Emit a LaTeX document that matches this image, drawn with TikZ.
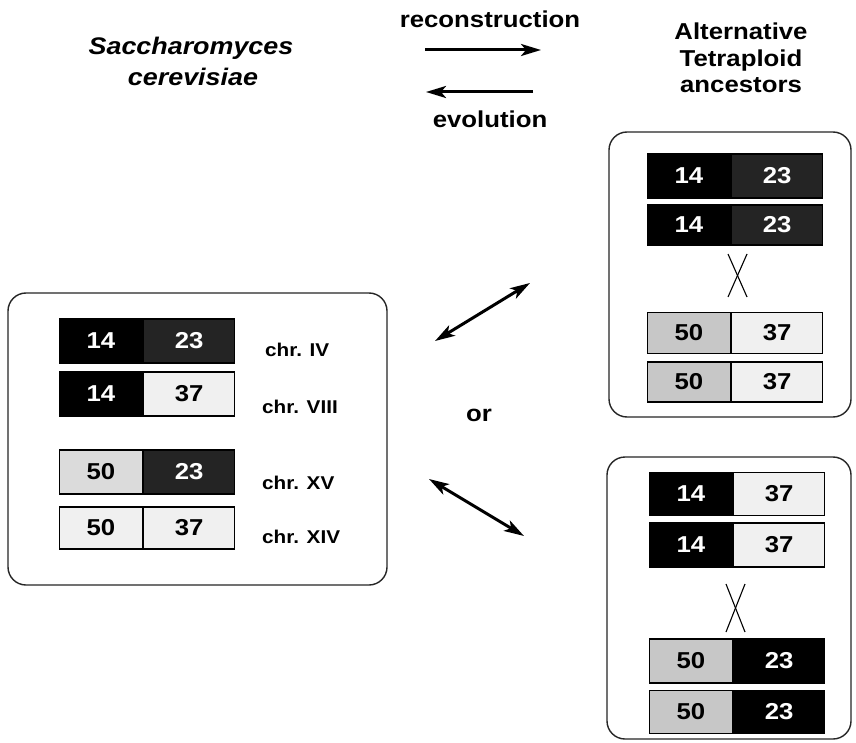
\documentclass[tikz,border=0pt]{standalone}
\usepackage{fontspec}
\setmainfont{Liberation Sans}[FakeStretch=1.12]
\usetikzlibrary{arrows.meta}
\definecolor{dk}{gray}{0.14}
\definecolor{lt}{gray}{0.94}
\definecolor{mdl}{gray}{0.86}
\definecolor{mdr}{gray}{0.78}
\tikzset{
  title/.style={font=\fontsize{23}{27}\selectfont\bfseries, anchor=base, inner sep=0},
  ititle/.style={font=\fontsize{24}{27}\selectfont\bfseries\itshape, anchor=base, inner sep=0},
  chrlab/.style={font=\fontsize{18.5}{22}\selectfont\bfseries, anchor=west, inner sep=0},
  seg/.style={draw=black, line width=1.2pt, rectangle, inner sep=0, font=\fontsize{23}{27}\selectfont\bfseries},
  blk/.style={fill=black, text=white},
  dkseg/.style={fill=dk, text=white},
  ltseg/.style={fill=lt, text=black},
  mdlseg/.style={fill=mdl, text=black},
  mdrseg/.style={fill=mdr, text=black},
  panel/.style={draw=black!85, line width=1.4pt, rounded corners=18pt},
  tip/.tip={Stealth[length=20pt, width=12pt, inset=5pt]},
  arr/.style={line width=3pt, -tip},
  darr/.style={line width=3pt, tip-tip},
  cross/.style={line width=1.1pt}
}
% id, left x, centre y, height, left style, left num, right style, right num
\newcommand\chro[8]{%
  \node[seg,#5,minimum width=83pt,minimum height=#4pt,anchor=east] (#1l) at ({#2+83},#3) {#6};
  \node[seg,#7,minimum width=91pt,minimum height=#4pt,anchor=west] (#1r) at (#1l.east) {#8};}
\begin{document}
\begin{tikzpicture}[x=1pt,y=-1pt]
\fill[white] (0,0) rectangle (856,743);
\useasboundingbox (0,0) rectangle (856,743);

% titles
\node[ititle] (sc1) at (191,55) {Saccharomyces};
\node[ititle] (sc2) at (193,86) {cerevisiae};
\node[title] (rec) at (490,28) {reconstruction};
\node[title] (evo) at (490,128) {evolution};
\node[title] (al1) at (741,40) {Alternative};
\node[title] (al2) at (741,67) {Tetraploid};
\node[title] (al3) at (741,93) {ancestors};

% top arrows
\coordinate (ra) at (425,50); \coordinate (rb) at (541,50);
\coordinate (ea) at (533,92); \coordinate (eb) at (426,92);
\draw[arr] (ra) -- (rb);
\draw[arr] (ea) -- (eb);

% left panel
\draw[panel] (8,293) rectangle (387,585);
\chro{a}{60}{341}{44}{blk}{14}{dkseg}{23}
\chro{b}{60}{394}{44}{blk}{14}{ltseg}{37}
\chro{c}{60}{472}{44}{mdlseg}{50}{dkseg}{23}
\chro{d}{60}{528}{42}{ltseg}{50}{ltseg}{37}
\node[chrlab] (la) at (265,350) {chr. IV};
\node[chrlab] (lb) at (262,407) {chr. VIII};
\node[chrlab] (lc) at (262,483) {chr. XV};
\node[chrlab] (ld) at (262,537) {chr. XIV};

% top right panel
\draw[panel] (609,132) rectangle (851,417);
\chro{e}{648}{176}{44}{blk}{14}{dkseg}{23}
\chro{f}{648}{225}{40}{blk}{14}{dkseg}{23}
\chro{g}{648}{333}{41}{mdrseg}{50}{ltseg}{37}
\chro{h}{648}{382}{40}{mdrseg}{50}{ltseg}{37}
\coordinate (x1a) at (728,254); \coordinate (x1b) at (747,297);
\coordinate (x1c) at (747,254); \coordinate (x1d) at (728,297);
\draw[cross] (x1a) -- (x1b);
\draw[cross] (x1c) -- (x1d);

% bottom right panel
\draw[panel] (607,457) rectangle (851,739);
\chro{i}{650}{494}{43}{blk}{14}{ltseg}{37}
\chro{j}{650}{545}{44}{blk}{14}{ltseg}{37}
\chro{k}{650}{661}{44}{mdrseg}{50}{blk}{23}
\chro{m}{650}{712}{43}{mdrseg}{50}{blk}{23}
\coordinate (x2a) at (726,584); \coordinate (x2b) at (745,632);
\coordinate (x2c) at (745,584); \coordinate (x2d) at (726,632);
\draw[cross] (x2a) -- (x2b);
\draw[cross] (x2c) -- (x2d);

% middle arrows
\coordinate (ua) at (435,341); \coordinate (ub) at (530,283);
\coordinate (la2) at (429,479); \coordinate (lb2) at (524,536);
\draw[darr] (ua) -- (ub);
\draw[darr] (la2) -- (lb2);
\node[title] (or) at (479,421) {or};
\end{tikzpicture}
\end{document}
